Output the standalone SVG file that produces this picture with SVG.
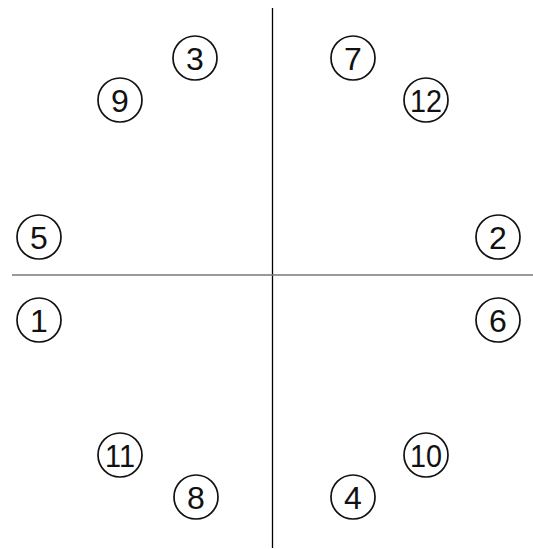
<svg xmlns="http://www.w3.org/2000/svg" width="533" height="549" viewBox="0 0 533 549">
<style>
.n circle{fill:#fff;stroke:#111;stroke-width:1.7}
.n text{font-family:"Liberation Sans",Arial,sans-serif;font-size:32px;fill:#111;text-anchor:middle}
</style>
<rect width="533" height="549" fill="#fff"/>
<g id="connectors">
<line x1="272.5" y1="8" x2="272.5" y2="548" stroke="#000" stroke-width="1.3"/>
<line x1="12" y1="275" x2="533" y2="275" stroke="#777" stroke-width="1.4"/>
</g>
<g id="n3" class="n"><circle cx="195" cy="58" r="22"/><text x="195" y="70">3</text></g>
<g id="n9" class="n"><circle cx="120" cy="100" r="22"/><text x="120" y="112">9</text></g>
<g id="n5" class="n"><circle cx="39" cy="237" r="22"/><text x="39" y="249">5</text></g>
<g id="n1" class="n"><circle cx="39" cy="320" r="22"/><text x="39" y="332">1</text></g>
<g id="n11" class="n"><circle cx="120" cy="455" r="22"/><text x="120" y="467" textLength="30" lengthAdjust="spacingAndGlyphs">11</text></g>
<g id="n8" class="n"><circle cx="196" cy="497" r="22"/><text x="196" y="509">8</text></g>
<g id="n7" class="n"><circle cx="353" cy="58" r="22"/><text x="353" y="70">7</text></g>
<g id="n12" class="n"><circle cx="426" cy="100" r="22"/><text x="426" y="112" textLength="32" lengthAdjust="spacingAndGlyphs">12</text></g>
<g id="n2" class="n"><circle cx="498" cy="237" r="22"/><text x="498" y="249">2</text></g>
<g id="n6" class="n"><circle cx="498" cy="320" r="22"/><text x="498" y="332">6</text></g>
<g id="n10" class="n"><circle cx="426" cy="455" r="22"/><text x="426" y="467" textLength="32" lengthAdjust="spacingAndGlyphs">10</text></g>
<g id="n4" class="n"><circle cx="353" cy="497" r="22"/><text x="353" y="509">4</text></g>
</svg>
